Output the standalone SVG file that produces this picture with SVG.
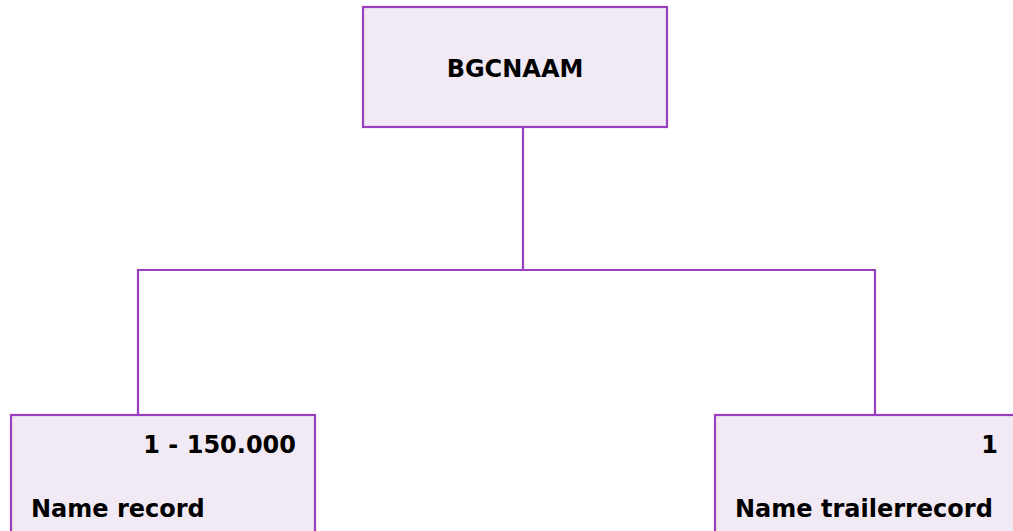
<svg xmlns="http://www.w3.org/2000/svg" width="1013" height="531" viewBox="0 0 1013 531">
<style>
.box{fill:#f1e9f3;stroke:#9a3fbf;stroke-width:2.2}
.conn{fill:none;stroke:#9a3fbf;stroke-width:2.2}
.t{font-family:"DejaVu Sans",Verdana,sans-serif;font-weight:bold;font-size:24px;fill:#000}
</style>
<rect width="1013" height="531" fill="#ffffff"/>
<g id="connectors">
<path class="conn" d="M523,127 V270"/>
<path class="conn" d="M138,415 V270 H875 V415"/>
</g>
<g id="bgcnaam">
<rect class="box" x="363" y="7" width="304" height="120"/>
<text class="t" x="515" y="77" text-anchor="middle">BGCNAAM</text>
</g>
<g id="name-record">
<rect class="box" x="11" y="415" width="304" height="130"/>
<text class="t" x="296" y="453" text-anchor="end">1 - 150.000</text>
<text class="t" x="31" y="517">Name record</text>
</g>
<g id="name-trailerrecord">
<rect class="box" x="715" y="415" width="320" height="130"/>
<text class="t" x="998" y="453" text-anchor="end">1</text>
<text class="t" x="735" y="517">Name trailerrecord</text>
</g>
</svg>
